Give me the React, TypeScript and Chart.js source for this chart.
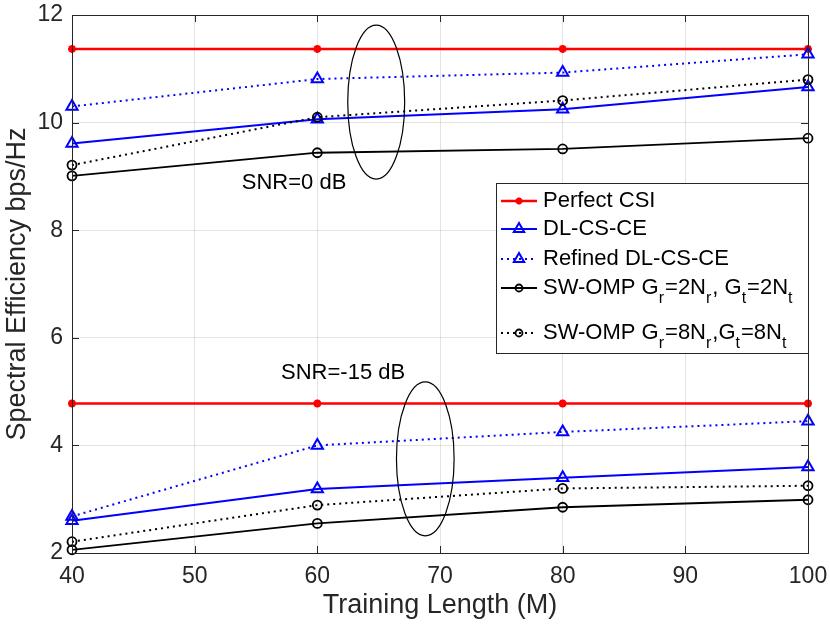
import React, { useEffect, useRef } from "react";
import { Chart, registerables } from "chart.js";

Chart.register(...registerables);

// ---------- data ----------
const trainingLength = [40, 60, 80, 100];

// SNR = 0 dB
const perfectCsi0 = [11.37, 11.37, 11.37, 11.37];
const dlCsCe0 = [9.61, 10.06, 10.25, 10.66];
const refinedDlCsCe0 = [10.3, 10.81, 10.93, 11.27];
const swOmp2_0 = [9.01, 9.44, 9.51, 9.71];
const swOmp8_0 = [9.21, 10.1, 10.41, 10.8];

// SNR = -15 dB
const perfectCsi15 = [4.78, 4.78, 4.78, 4.78];
const dlCsCe15 = [2.6, 3.19, 3.4, 3.6];
const refinedDlCsCe15 = [2.68, 4.0, 4.25, 4.45];
const swOmp2_15 = [2.06, 2.55, 2.85, 2.99];
const swOmp8_15 = [2.21, 2.89, 3.2, 3.25];

const xTicks = [40, 50, 60, 70, 80, 90, 100];
const yTicks = [2, 4, 6, 8, 10, 12];

// legend entries: segments of [text, isSubscript]
const legendLabels: [string, boolean][][] = [
  [["Perfect CSI", false]],
  [["DL-CS-CE", false]],
  [["Refined DL-CS-CE", false]],
  [
    ["SW-OMP G", false], ["r", true], ["=2N", false], ["r", true],
    [", G", false], ["t", true], ["=2N", false], ["t", true],
  ],
  [
    ["SW-OMP G", false], ["r", true], ["=8N", false], ["r", true],
    [",G", false], ["t", true], ["=8N", false], ["t", true],
  ],
];

// annotations (data units)
const annotationTexts = ["SNR=0 dB", "SNR=-15 dB"];
const annotationTextPos = [
  [58.1, 8.87],
  [62.1, 5.35],
];
const ellipseCenters = [
  [64.8, 10.38],
  [68.8, 3.75],
];
const ellipseRadii = [
  [2.32, 1.43],
  [2.35, 1.43],
];

// ---------- styles ----------
const FONT = "'Liberation Sans', Arial, Helvetica, sans-serif";
const AX = "#262626";

type Style = {
  color: string;
  width: number;
  dash: number[];
  point: string;
  radius: number;
  pw: number;
};
const styles: Style[] = [
  { color: "#ff0000", width: 2.5, dash: [], point: "star", radius: 4, pw: 2.5 },
  { color: "#0000ff", width: 2, dash: [], point: "triangle", radius: 6.5, pw: 2 },
  { color: "#0000ff", width: 2, dash: [2, 4], point: "triangle", radius: 6.5, pw: 2 },
  { color: "#000000", width: 1.8, dash: [], point: "circle", radius: 4.5, pw: 1.8 },
  { color: "#000000", width: 2, dash: [2, 4], point: "circle", radius: 4.5, pw: 1.8 },
];

const seriesGroups = [
  [perfectCsi0, perfectCsi15],
  [dlCsCe0, dlCsCe15],
  [refinedDlCsCe0, refinedDlCsCe15],
  [swOmp2_0, swOmp2_15],
  [swOmp8_0, swOmp8_15],
];

function makeDatasets() {
  const ds: any[] = [];
  seriesGroups.forEach((group, i) => {
    const s = styles[i];
    group.forEach((vals) => {
      ds.push({
        label: legendLabels[i].map((p) => p[0]).join(""),
        data: trainingLength.map((x, k) => ({ x, y: vals[k] })),
        borderColor: s.color,
        backgroundColor: "rgba(0,0,0,0)",
        borderWidth: s.width,
        borderDash: s.dash,
        pointStyle: s.point,
        pointRadius: s.radius,
        pointBorderWidth: s.pw,
        pointBorderColor: s.color,
        pointBackgroundColor: i === 0 ? s.color : "rgba(0,0,0,0)",
        tension: 0,
        clip: false,
        order: 10 - i,
      });
    });
  });
  return ds;
}

function drawMarker(ctx: CanvasRenderingContext2D, s: Style, x: number, y: number) {
  ctx.save();
  ctx.strokeStyle = s.color;
  ctx.fillStyle = s.color;
  ctx.lineWidth = s.pw;
  ctx.setLineDash([]);
  ctx.beginPath();
  if (s.point === "circle") {
    ctx.arc(x, y, 3.5, 0, Math.PI * 2);
    ctx.stroke();
  } else if (s.point === "triangle") {
    const r = 6;
    ctx.moveTo(x, y - r);
    ctx.lineTo(x + r * 0.866, y + r * 0.5);
    ctx.lineTo(x - r * 0.866, y + r * 0.5);
    ctx.closePath();
    ctx.stroke();
  } else {
    const r = 3.5;
    for (let k = 0; k < 4; k++) {
      const a = (k * Math.PI) / 4;
      ctx.moveTo(x - r * Math.cos(a), y - r * Math.sin(a));
      ctx.lineTo(x + r * Math.cos(a), y + r * Math.sin(a));
    }
    ctx.stroke();
  }
  ctx.restore();
}

const overlayPlugin = {
  id: "overlay",
  afterDatasetsDraw(chart: any) {
    const { ctx, chartArea, scales } = chart;
    const xs = scales.x;
    const ys = scales.y;
    ctx.save();

    // box
    ctx.strokeStyle = AX;
    ctx.lineWidth = 1;
    ctx.strokeRect(
      Math.round(chartArea.left) + 0.5,
      Math.round(chartArea.top) + 0.5,
      Math.round(chartArea.right - chartArea.left),
      Math.round(chartArea.bottom - chartArea.top)
    );

    // inner ticks on all sides
    const tl = 7;
    ctx.beginPath();
    xTicks.forEach((v) => {
      const px = Math.round(xs.getPixelForValue(v)) + 0.5;
      ctx.moveTo(px, chartArea.bottom);
      ctx.lineTo(px, chartArea.bottom - tl);
      ctx.moveTo(px, chartArea.top);
      ctx.lineTo(px, chartArea.top + tl);
    });
    yTicks.forEach((v) => {
      const py = Math.round(ys.getPixelForValue(v)) + 0.5;
      ctx.moveTo(chartArea.left, py);
      ctx.lineTo(chartArea.left + tl, py);
      ctx.moveTo(chartArea.right, py);
      ctx.lineTo(chartArea.right - tl, py);
    });
    ctx.stroke();

    // ellipses
    ctx.strokeStyle = "#000";
    ctx.lineWidth = 1.2;
    ellipseCenters.forEach((c, i) => {
      const cx = xs.getPixelForValue(c[0]);
      const cy = ys.getPixelForValue(c[1]);
      const rx = Math.abs(xs.getPixelForValue(c[0] + ellipseRadii[i][0]) - cx);
      const ry = Math.abs(ys.getPixelForValue(c[1] + ellipseRadii[i][1]) - cy);
      ctx.beginPath();
      ctx.ellipse(cx, cy, rx, ry, 0, 0, Math.PI * 2);
      ctx.stroke();
    });

    // annotation texts
    ctx.fillStyle = "#000";
    ctx.font = `22px ${FONT}`;
    ctx.textAlign = "center";
    ctx.textBaseline = "middle";
    annotationTexts.forEach((t, i) => {
      ctx.fillText(t, xs.getPixelForValue(annotationTextPos[i][0]), ys.getPixelForValue(annotationTextPos[i][1]));
    });

    // legend
    const lRight = Math.round(chartArea.right);
    const lLeft = lRight - 312;
    const lTop = Math.round(chartArea.top) + 168;
    const lBottom = lTop + 170;
    ctx.fillStyle = "#fff";
    ctx.fillRect(lLeft, lTop, lRight - lLeft, lBottom - lTop);
    ctx.strokeStyle = AX;
    ctx.lineWidth = 1;
    ctx.strokeRect(lLeft + 0.5, lTop + 0.5, lRight - lLeft, lBottom - lTop);

    const rowY = [18, 46, 76, 105, 150];
    legendLabels.forEach((segs, i) => {
      const s = styles[i];
      const y = lTop + rowY[i];
      const x0 = lLeft + 5;
      const x1 = lLeft + 41;
      ctx.strokeStyle = s.color;
      ctx.lineWidth = s.width;
      ctx.setLineDash(s.dash);
      ctx.beginPath();
      ctx.moveTo(x0, y);
      ctx.lineTo(x1, y);
      ctx.stroke();
      ctx.setLineDash([]);
      drawMarker(ctx, s, (x0 + x1) / 2, y);
      let tx = lLeft + 47;
      ctx.fillStyle = "#000";
      ctx.textAlign = "left";
      ctx.textBaseline = "middle";
      segs.forEach(([t, sub]) => {
        ctx.font = sub ? `16px ${FONT}` : `22px ${FONT}`;
        ctx.fillText(t, tx, sub ? y + 11 : y);
        tx += ctx.measureText(t).width + (sub ? 1 : 0);
      });
    });

    ctx.restore();
  },
};

export default function App() {
  const ref = useRef<HTMLCanvasElement | null>(null);

  useEffect(() => {
    document.body.style.margin = "0";
    const canvas = ref.current;
    if (!canvas) return;

    const chart = new Chart(canvas, {
      type: "line",
      data: { datasets: makeDatasets() },
      options: {
        animation: false,
        responsive: false,
        devicePixelRatio: 1,
        layout: { padding: { top: 15, right: 22, left: 0, bottom: 0 } },
        plugins: {
          legend: { display: false },
          tooltip: { enabled: false },
        },
        scales: {
          x: {
            type: "linear",
            min: 40,
            max: 100,
            afterFit: (s: any) => {
              s.height = 71;
              s.paddingLeft = 0;
              s.paddingRight = 0;
            },
            afterBuildTicks: (s: any) => {
              s.ticks = xTicks.map((v) => ({ value: v }));
            },
            ticks: {
              color: AX,
              font: { family: FONT, size: 23 },
              padding: 10,
              maxRotation: 0,
              autoSkip: false,
            },
            grid: { color: "rgba(38,38,38,0.13)", drawTicks: false, lineWidth: 1 },
            border: { display: true, color: AX, width: 1 },
            title: {
              display: true,
              text: "Training Length (M)",
              color: AX,
              font: { family: FONT, size: 27 },
              padding: { top: 0, bottom: 2 },
            },
          },
          y: {
            type: "linear",
            min: 2,
            max: 12,
            afterFit: (s: any) => {
              s.width = 72;
              s.paddingTop = 0;
              s.paddingBottom = 0;
            },
            afterBuildTicks: (s: any) => {
              s.ticks = yTicks.map((v) => ({ value: v }));
            },
            ticks: {
              color: AX,
              font: { family: FONT, size: 23 },
              padding: 9,
              autoSkip: false,
            },
            grid: { color: "rgba(38,38,38,0.13)", drawTicks: false, lineWidth: 1 },
            border: { display: true, color: AX, width: 1 },
            title: {
              display: true,
              text: "Spectral Efficiency bps/Hz",
              color: AX,
              font: { family: FONT, size: 27 },
              padding: { top: 1, bottom: 0 },
            },
          },
        },
      },
      plugins: [overlayPlugin],
    } as any);

    return () => chart.destroy();
  }, []);

  return (
    <div style={{ width: 830, height: 624 }}>
      <canvas ref={ref} width={830} height={624} style={{ width: 830, height: 624, display: "block" }} />
    </div>
  );
}
